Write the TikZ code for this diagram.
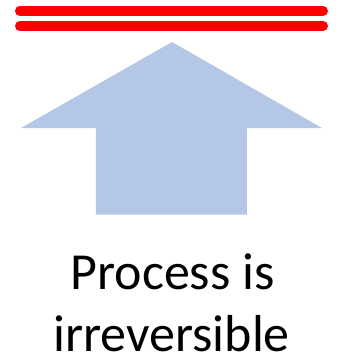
\documentclass[tikz,border=0pt]{standalone}
\usepackage{fontspec}
\setmainfont{Carlito}
\definecolor{arrowblue}{HTML}{B4C7E7}
\definecolor{barred}{HTML}{FF0000}
\tikzset{
  redbar/.style={draw=barred, line width=10pt, line cap=round},
  bigarrow/.style={fill=arrowblue, draw=none},
  label/.style={anchor=base, inner sep=0pt, font=\fontsize{52}{62}\selectfont}
}
\begin{document}
\begin{tikzpicture}[x=1pt,y=-1pt]
\useasboundingbox (0,0) rectangle (339,360);
\coordinate (b1l) at (20,11);
\coordinate (b1r) at (323,11);
\coordinate (b2l) at (20,26);
\coordinate (b2r) at (323,26);
\draw[redbar] (b1l) -- (b1r);
\draw[redbar] (b2l) -- (b2r);
\fill[bigarrow] (172,42) -- (322,128) -- (247,128) -- (247,214.5) -- (96,214.5) -- (96,128) -- (21,128) -- cycle;
\node[label] (l1) at (172.5,289.5) {Process is};
\node[label] (l2) at (171.5,351.5) {irreversible};
\end{tikzpicture}
\end{document}
